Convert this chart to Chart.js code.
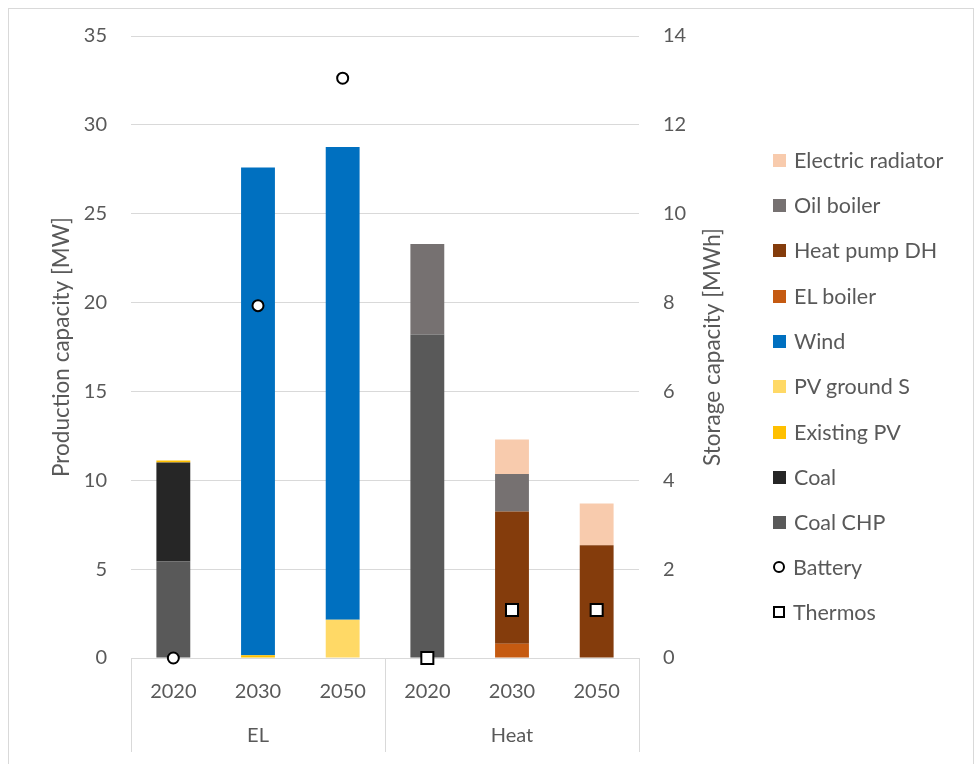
<!DOCTYPE html>
<html>
<head>
<meta charset="utf-8">
<script src="https://cdn.jsdelivr.net/npm/chart.js@4.4.1/dist/chart.umd.min.js"></script>
<style>
  html, body { margin: 0; padding: 0; background: #fff; overflow: hidden; }
  #wrap { position: relative; width: 976px; height: 764px; }
  #frame { position: absolute; left: 8px; top: 8px; width: 966px; height: 800px; border: 1px solid #D9D9D9; box-sizing: border-box; }
  canvas { position: absolute; left: 0; top: 0; }
  #legend { position: absolute; left: 773px; top: 0; font-family: Lato, "Open Sans", sans-serif; font-size: 21.5px; color: #595959; }
  .item { position: absolute; left: 0; height: 24px; white-space: nowrap; display: flex; align-items: center; }
  .sw { width: 13px; height: 13px; margin-right: 8px; flex: none; box-sizing: border-box; }
</style>
</head>
<body>
<div id="wrap">
  <div id="frame"></div>
  <canvas id="c" width="976" height="764"></canvas>
  <div id="legend"></div>
</div>
<script>
const categories = ['2020', '2030', '2050', '2020', '2030', '2050'];
const groups = ['EL', 'Heat'];

const coalCHP = [5.45, null, null, 18.2, null, null];
const coal = [5.55, null, null, null, null, null];
const existingPV = [0.12, 0.15, null, null, null, null];
const pvGroundS = [null, null, 2.15, null, null, null];
const wind = [null, 27.45, 26.6, null, null, null];
const elBoiler = [null, null, null, null, 0.8, null];
const heatPumpDH = [null, null, null, null, 7.45, 6.35];
const oilBoiler = [null, null, null, 5.1, 2.1, null];
const electricRadiator = [null, null, null, null, 1.95, 2.35];

const battery = [0, 7.93, 13.05, null, null, null];
const thermos = [null, null, null, 0, 1.08, 1.08];

const leftTicks = [0, 5, 10, 15, 20, 25, 30, 35];
const rightTicks = [0, 2, 4, 6, 8, 10, 12, 14];

const FONT = 'Lato, "Open Sans", sans-serif';
const TXT = '#595959';
const GRID = '#D9D9D9';

const barSeries = [
  { label: 'Coal CHP', data: coalCHP, color: '#595959' },
  { label: 'Coal', data: coal, color: '#262626' },
  { label: 'Existing PV', data: existingPV, color: '#FFC000' },
  { label: 'PV ground S', data: pvGroundS, color: '#FFD966' },
  { label: 'Wind', data: wind, color: '#0070C0' },
  { label: 'EL boiler', data: elBoiler, color: '#C55A11' },
  { label: 'Heat pump DH', data: heatPumpDH, color: '#843C0C' },
  { label: 'Oil boiler', data: oilBoiler, color: '#767171' },
  { label: 'Electric radiator', data: electricRadiator, color: '#F8CBAD' }
];

const datasets = [];
datasets.push({
  type: 'line', label: 'Battery', data: battery, yAxisID: 'y2', showLine: false,
  pointStyle: 'circle', pointRadius: 5.5, pointBorderWidth: 2,
  pointBackgroundColor: '#fff', pointBorderColor: '#000', order: 0, clip: false
});
datasets.push({
  type: 'line', label: 'Thermos', data: thermos, yAxisID: 'y2', showLine: false,
  pointStyle: 'rect', pointRadius: 8.5, pointBorderWidth: 2,
  pointBackgroundColor: '#fff', pointBorderColor: '#000', order: 0, clip: false
});
barSeries.forEach(s => datasets.push({
  type: 'bar', label: s.label, data: s.data, backgroundColor: s.color,
  borderWidth: 0, yAxisID: 'y', stack: 's', order: 1,
  categoryPercentage: 1.0, barPercentage: 0.4
}));

const PLOT_L = 131, PLOT_R = 639, PLOT_T = 36, PLOT_B = 658;

const decor = {
  id: 'decor',
  afterDraw(chart) {
    const ctx = chart.ctx;
    const a = chart.chartArea;
    const xs = chart.scales.x;
    ctx.save();
    ctx.strokeStyle = GRID;
    ctx.lineWidth = 1;
    const mid = (xs.getPixelForValue(2) + xs.getPixelForValue(3)) / 2;
    [a.left, mid, a.right].forEach(x => {
      ctx.beginPath();
      ctx.moveTo(Math.round(x) + 0.5, a.bottom);
      ctx.lineTo(Math.round(x) + 0.5, 752);
      ctx.stroke();
    });
    ctx.fillStyle = TXT;
    ctx.font = '20px ' + FONT;
    ctx.textAlign = 'center';
    ctx.textBaseline = 'middle';
    ctx.fillText(groups[0], (a.left + mid) / 2, 736);
    ctx.fillText(groups[1], (mid + a.right) / 2, 736);
    const cy = (a.top + a.bottom) / 2;
    ctx.font = '22.5px ' + FONT;
    ctx.save();
    ctx.translate(62, cy);
    ctx.rotate(-Math.PI / 2);
    ctx.fillText('Production capacity [MW]', 0, 0);
    ctx.restore();
    ctx.save();
    ctx.translate(713, cy);
    ctx.rotate(-Math.PI / 2);
    ctx.fillText('Storage capacity [MWh]', 0, 0);
    ctx.restore();
    ctx.restore();
  }
};

new Chart(document.getElementById('c'), {
  data: { labels: categories, datasets },
  options: {
    responsive: false,
    animation: false,
    layout: { padding: { top: PLOT_T, left: 0, right: 0, bottom: 0 } },
    plugins: { legend: { display: false }, tooltip: { enabled: false } },
    scales: {
      x: {
        type: 'category', offset: true, stacked: true,
        grid: { display: false, drawTicks: false },
        border: { display: true, color: GRID },
        ticks: { color: TXT, font: { family: FONT, size: 20 }, padding: 22, maxRotation: 0 },
        afterFit(s) { s.height = 764 - PLOT_B; }
      },
      y: {
        position: 'left', stacked: true, min: 0, max: 35,
        afterBuildTicks(s) { s.ticks = leftTicks.map(v => ({ value: v })); },
        grid: { color: GRID, drawTicks: false },
        border: { display: false },
        ticks: { color: TXT, font: { family: FONT, size: 20 }, padding: 24 },
        afterFit(s) { s.width = PLOT_L; }
      },
      y2: {
        position: 'right', min: 0, max: 14,
        afterBuildTicks(s) { s.ticks = rightTicks.map(v => ({ value: v })); },
        grid: { display: false, drawTicks: false },
        border: { display: false },
        ticks: { color: TXT, font: { family: FONT, size: 20 }, padding: 24 },
        afterFit(s) { s.width = 976 - PLOT_R; }
      }
    }
  },
  plugins: [decor]
});

// HTML legend (reverse of stacking order, then markers)
const legendItems = barSeries.slice().reverse().map(s => ({ label: s.label, color: s.color, kind: 'box' }));
legendItems.push({ label: 'Battery', kind: 'circle' });
legendItems.push({ label: 'Thermos', kind: 'square' });
const leg = document.getElementById('legend');
const centers = [160, 205, 250, 296, 341, 386, 432, 477, 522, 567, 612];
legendItems.forEach((it, i) => {
  const d = document.createElement('div');
  d.className = 'item';
  d.style.top = (centers[i] - 12) + 'px';
  const sw = document.createElement('span');
  sw.className = 'sw';
  if (it.kind === 'box') sw.style.background = it.color;
  else if (it.kind === 'circle') { sw.style.border = '2px solid #000'; sw.style.borderRadius = '50%'; sw.style.background = '#fff'; sw.style.width = '12px'; sw.style.height = '12px'; }
  else { sw.style.border = '2px solid #000'; sw.style.background = '#fff'; sw.style.width = '12px'; sw.style.height = '12px'; }
  const t = document.createElement('span');
  t.textContent = it.label;
  d.appendChild(sw); d.appendChild(t);
  leg.appendChild(d);
});
</script>
</body>
</html>
